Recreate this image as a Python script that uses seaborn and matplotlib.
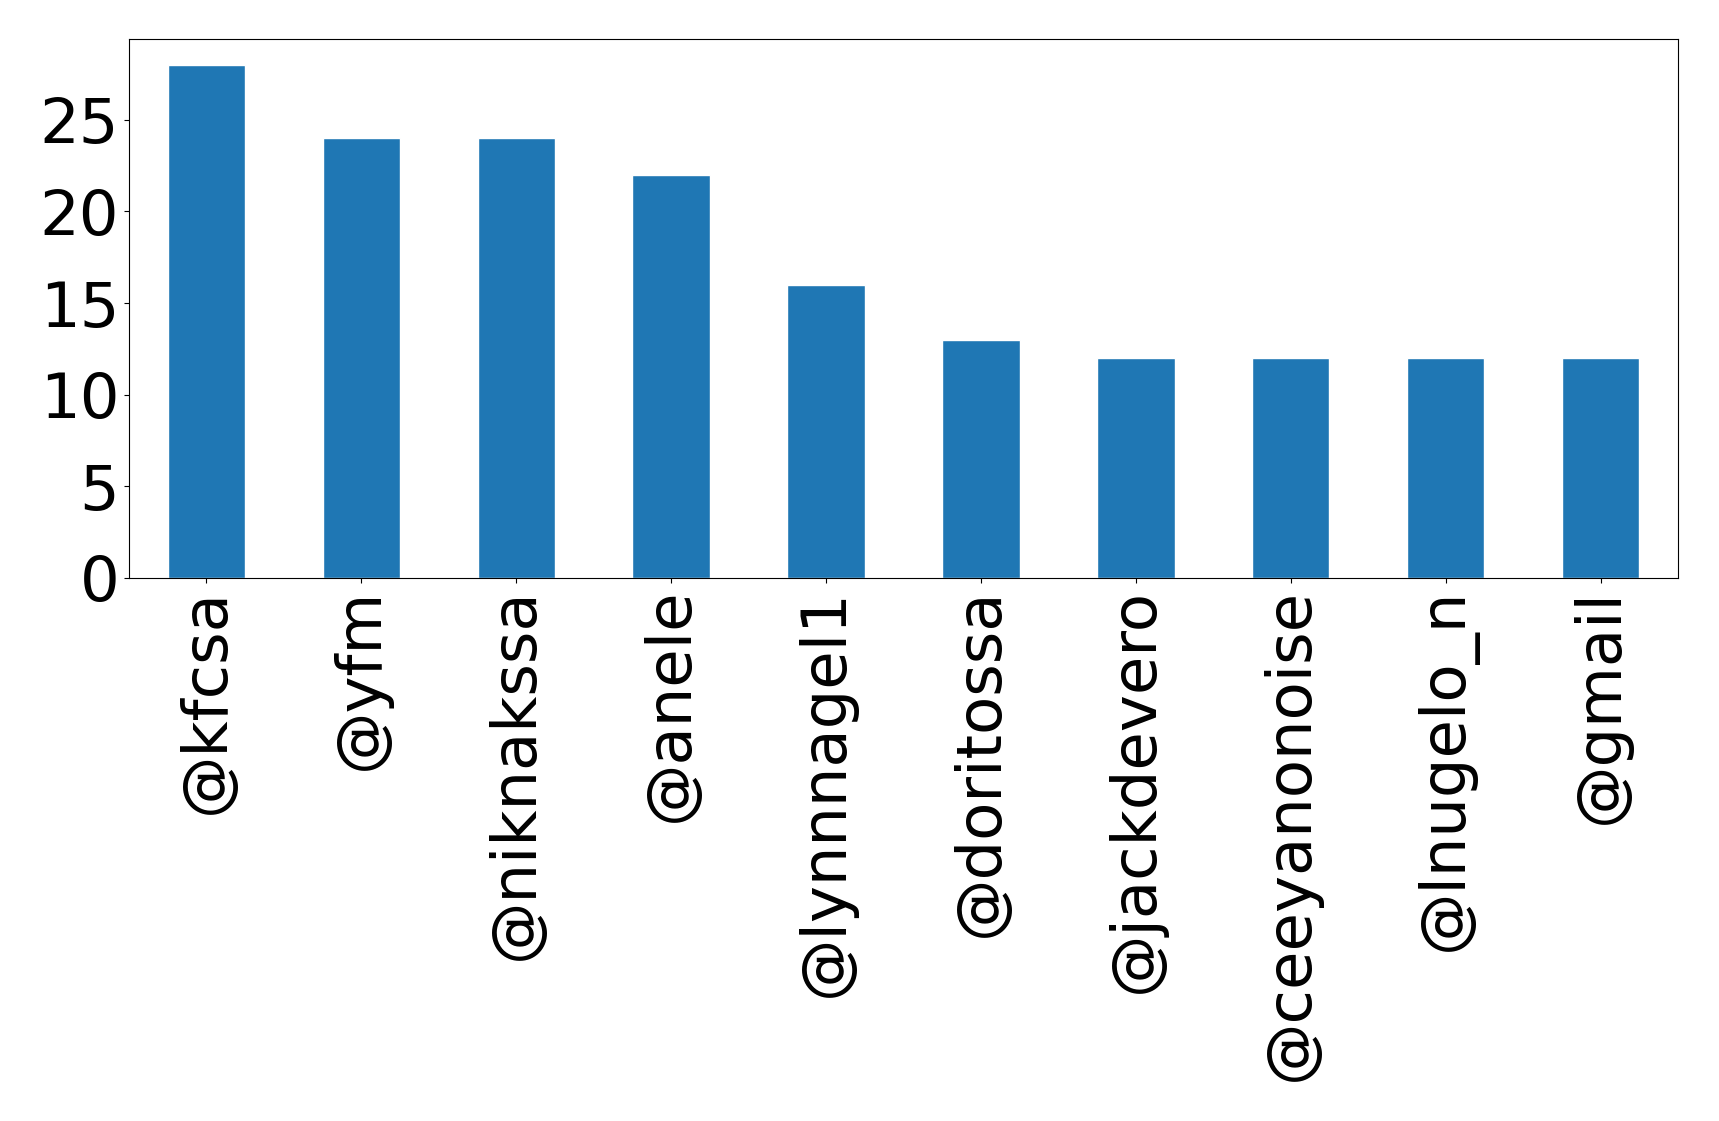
import matplotlib
matplotlib.use("Agg")
import matplotlib.pyplot as plt
import seaborn as sns
import pandas as pd

handles = ["@kfcsa", "@yfm", "@niknakssa", "@anele", "@lynnnagel1",
           "@doritossa", "@jackdevero", "@ceeyanonoise", "@lnugelo_n", "@gmail"]
counts = [28, 24, 24, 22, 16, 13, 12, 12, 12, 12]
yticks = [0, 5, 10, 15, 20, 25]

df = pd.DataFrame({"handle": handles, "count": counts})

sns.set_style("ticks", {"axes.edgecolor": "black", "xtick.color": "black",
                        "ytick.color": "black", "text.color": "black",
                        "axes.labelcolor": "black"})
plt.rcParams['font.family'] = ['DejaVu Sans']
plt.rcParams['xtick.major.size'] = 3.5
plt.rcParams['ytick.major.size'] = 3.5
plt.rcParams['xtick.major.width'] = 0.8
plt.rcParams['ytick.major.width'] = 0.8

fig = plt.figure(figsize=(17.19, 11.21), dpi=100)
ax = fig.add_axes([129/1719, 1 - 578/1121, (1678-129)/1719, (578-39)/1121])
sns.barplot(data=df, x="handle", y="count", color="#1f77b4", saturation=1,
            width=0.5, ax=ax)
ax.set_xlim(-0.5, len(handles) - 0.5)
ax.set_ylim(0, max(counts) * 1.05)
ax.set_yticks(yticks)
ax.set_xlabel("")
ax.set_ylabel("")
ax.tick_params(axis="both", labelsize=45, colors="black")
ax.tick_params(axis="x", labelrotation=90)
for s in ax.spines.values():
    s.set_visible(True)
    s.set_linewidth(0.8)
    s.set_color("black")
fig.savefig("out.png", dpi=100)
